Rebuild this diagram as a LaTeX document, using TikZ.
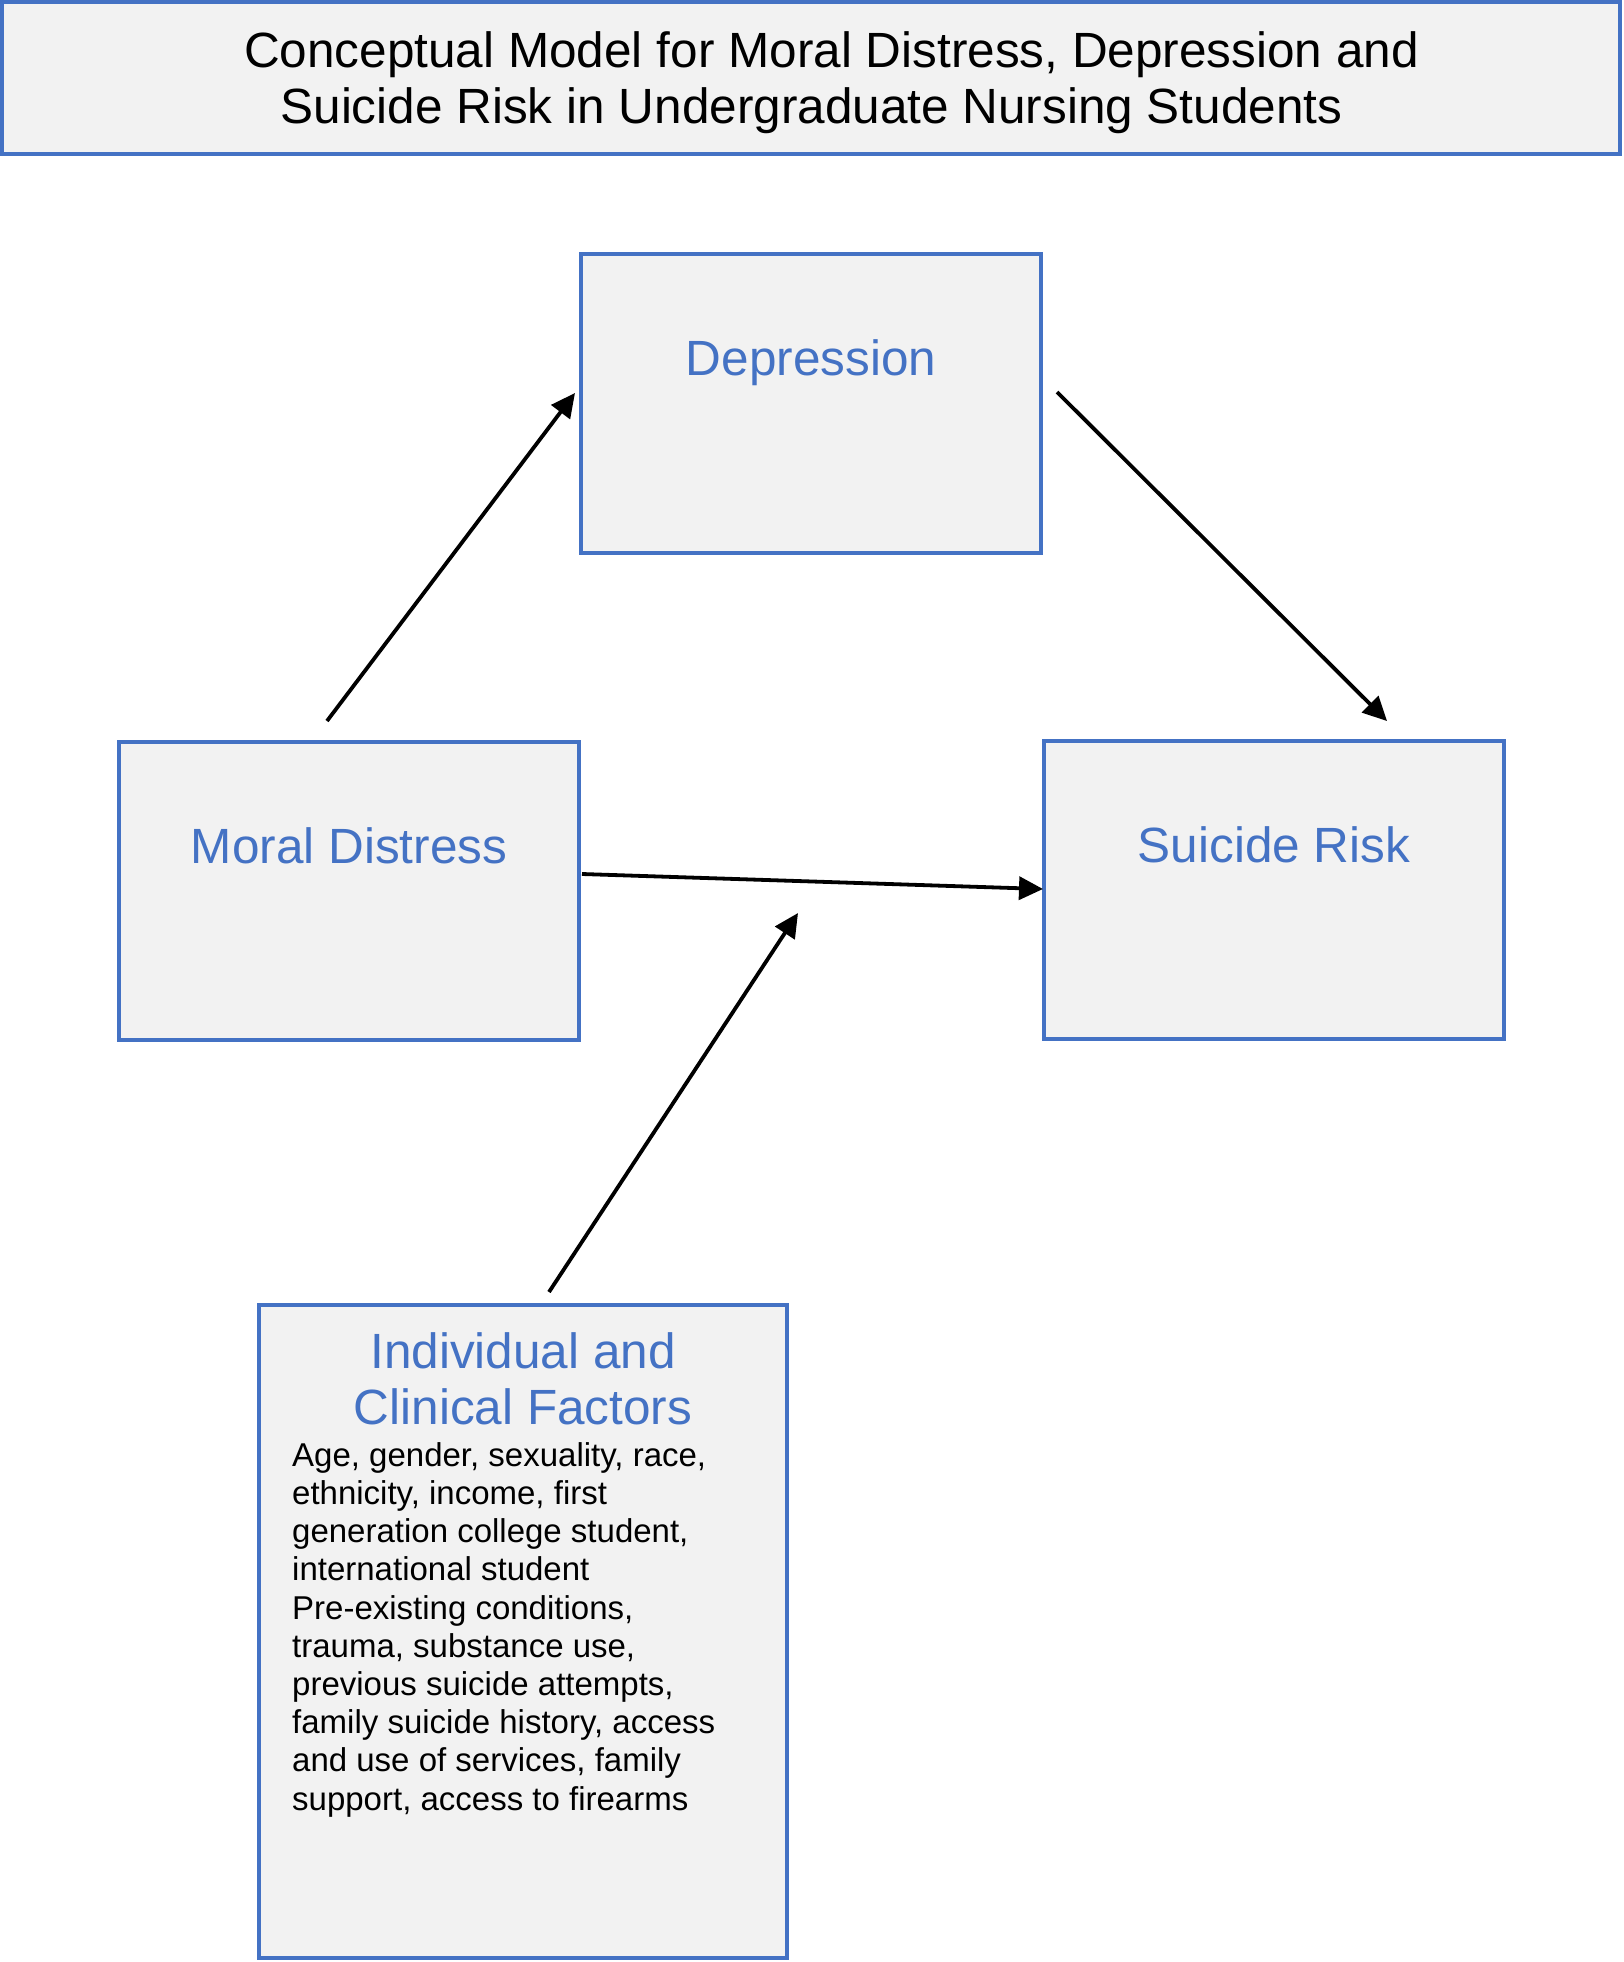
\documentclass[tikz,border=0pt]{standalone}
\usepackage{fontspec}
\setmainfont{Liberation Sans}
\usetikzlibrary{arrows.meta,calc}
\definecolor{boxblue}{HTML}{4472C4}
\definecolor{boxfill}{HTML}{F2F2F2}
\begin{document}
\begin{tikzpicture}[x=1pt,y=-1pt,
  box/.style={draw=boxblue,fill=boxfill,line width=3.3pt,rectangle,inner sep=0pt,outer sep=0pt},
  lbl/.style={anchor=base,text=boxblue,font=\fontsize{49.5}{56}\selectfont,inner sep=0pt,align=center},
  ttl/.style={anchor=base,text=black,font=\fontsize{49.5}{56}\selectfont,inner sep=0pt},
  body/.style={anchor=base west,text=black,font=\fontsize{33}{38.2}\selectfont,align=left,inner sep=0pt},
  arr/.style={line width=3.8pt,-{Triangle[length=24pt,width=23pt]}}]
\useasboundingbox (0,0) rectangle (1623,1962);

% boxes
\node[box,minimum width=1618pt,minimum height=152pt] (title) at (811,78) {};
\node[box,minimum width=460pt,minimum height=299pt] (dep) at (811,403.5) {};
\node[box,minimum width=460pt,minimum height=298pt] (md) at (349,891) {};
\node[box,minimum width=460pt,minimum height=298pt] (sr) at (1274,890) {};
\node[box,minimum width=528pt,minimum height=653pt] (ind) at (523,1631.5) {};

% texts
\node[ttl] (t1) at (831.5,67) {Conceptual Model for Moral Distress, Depression and};
\node[ttl] (t2) at (811.5,123) {Suicide Risk in Undergraduate Nursing Students};
\node[lbl] (deplbl) at (811,375) {Depression};
\node[lbl] (mdlbl) at (349,863) {Moral Distress};
\node[lbl] (srlbl) at (1274,862) {Suicide Risk};
\node[lbl] (indlbl1) at (523,1368) {Individual and};
\node[lbl] (indlbl2) at (523,1424) {Clinical Factors};
\node[body] (indbody) at (292,1810) {Age, gender, sexuality, race,\\
ethnicity, income, first\\
generation college student,\\
international student\\
Pre-existing conditions,\\
trauma, substance use,\\
previous suicide attempts,\\
family suicide history, access\\
and use of services, family\\
support, access to firearms};

% connectors
\coordinate (mod) at (798,913);
\draw[arr] ($(md.north)+(-22,-21)$) -- ($(dep.west)+(-6,-10.5)$);
\draw[arr] ($(dep.east)+(16,-11.5)$) -- ($(sr.north)+(113,-20)$);
\draw[arr] ($(md.east)+(3,-17)$) -- ($(sr.west)+(-1,-1)$);
\draw[arr] ($(ind.north)+(26,-13)$) -- (mod);
\end{tikzpicture}
\end{document}
